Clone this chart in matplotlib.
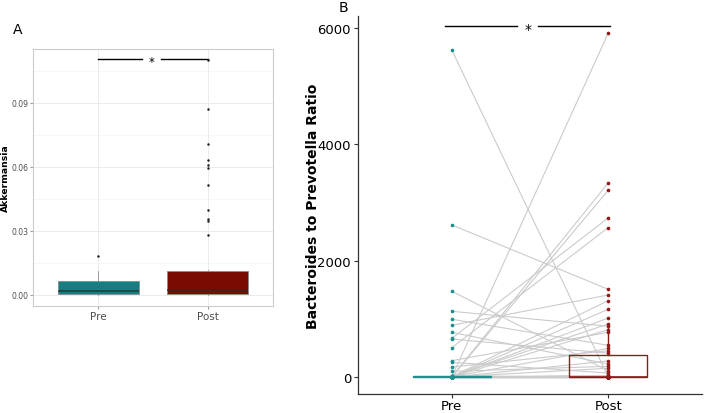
import numpy as np
import matplotlib.pyplot as plt
from matplotlib.ticker import FormatStrFormatter

groups = ['Pre', 'Post']
teal = '#127f80'
darkred = '#7b0b01'

# Panel A - Akkermansia boxplot summaries
akk_lo = [0.0, 0.0]
akk_q1 = [0.0005, 0.0005]
akk_med = [0.0016, 0.0025]
akk_q3 = [0.0064, 0.0110]
akk_hi = [0.0114, 0.0119]
akk_out_pre = [0.0183]
akk_out_post = [0.0282, 0.0346, 0.0357, 0.0399, 0.0513, 0.0595,
                0.0607, 0.0634, 0.0706, 0.0873, 0.1100]

# Panel B - paired Bacteroides / Prevotella ratio per subject
btp_pre = [5620, 2614, 1474, 1130, 992, 889, 768, 665, 653, 504, 281, 252, 172, 98,
           0, 3, 0, 8, 1, 0, 12, 0, 5, 0, 2, 0,
           0, 1, 0, 4, 0, 2, 9, 0, 0, 6, 1, 0, 3, 0, 15, 0, 2, 0, 7, 0, 1, 0,
           4, 0, 11, 0, 0, 2, 0, 5, 0, 1, 0, 3, 0, 18, 0, 2, 0, 6, 0, 1, 0, 9]
btp_post = [5, 1508, 108, 872, 545, 1410, 224, 2734, 410, 2568, 768, 69, 453, 184,
            5910, 3336, 3210, 1312, 1164, 1015, 911, 814, 493, 275, 150, 23,
            2, 0, 6, 1, 0, 12, 3, 0, 8, 0, 1, 15, 0, 4, 0, 2, 9, 0, 1, 0, 7, 3,
            0, 18, 0, 1, 5, 0, 2, 11, 0, 4, 0, 1, 6, 0, 14, 2, 0, 3, 0, 8, 1, 0]

W, H = 706, 414
fig = plt.figure(figsize=(W / 100, H / 100), dpi=100)

# ---------------- Panel A ----------------
axA = fig.add_axes([33 / W, 107 / H, 240 / W, 257 / H])
fliers = [akk_out_pre, akk_out_post]
stats = [dict(label=groups[i], whislo=akk_lo[i], q1=akk_q1[i], med=akk_med[i],
              q3=akk_q3[i], whishi=akk_hi[i], fliers=fliers[i]) for i in range(2)]
bp = axA.bxp(stats, positions=[1, 2], widths=0.75, patch_artist=True, showcaps=False,
             boxprops=dict(edgecolor='#8c8c8c', linewidth=0.6),
             medianprops=dict(color='#2a2a2a', linewidth=1.2, alpha=0.75),
             whiskerprops=dict(color='#8c8c8c', linewidth=0.6),
             flierprops=dict(marker='o', markersize=1.8, markerfacecolor='#222222',
                             markeredgecolor='none'), zorder=3)
for patch, c in zip(bp['boxes'], [teal, darkred]):
    patch.set_facecolor(c)

axA.set_xlim(0.4, 2.6)
axA.set_ylim(-0.0052, 0.1153)
axA.set_xticks([1, 2])
axA.set_xticklabels(groups)
axA.set_yticks([0, 0.03, 0.06, 0.09])
axA.set_yticks([0.015, 0.045, 0.075, 0.105], minor=True)
axA.yaxis.set_major_formatter(FormatStrFormatter('%.2f'))
axA.grid(which='major', color='#ebebeb', linewidth=0.7, zorder=0)
axA.grid(which='minor', axis='y', color='#f4f4f4', linewidth=0.5, zorder=0)
axA.set_axisbelow(True)
for sp in axA.spines.values():
    sp.set_color('#cccccc')
    sp.set_linewidth(0.8)
axA.tick_params(axis='both', which='major', length=2, color='#999999', labelcolor='#4d4d4d', pad=1.5)
axA.tick_params(axis='y', labelsize=5.5)
axA.tick_params(axis='x', labelsize=7.5)
axA.tick_params(which='minor', length=0)
axA.set_ylabel('Akkermansia', fontsize=6.7, fontweight='bold')
axA.yaxis.set_label_coords(-0.095, 0.5)

# significance bar
axA.plot([1.0, 1.4], [0.1106, 0.1106], color='black', lw=1.0)
axA.plot([1.57, 2.0], [0.1106, 0.1106], color='black', lw=1.0)
axA.text(1.485, 0.1096, '*', ha='center', va='center', fontsize=8.5)

fig.text(18 / W, 1 - 30 / H, 'A', fontsize=10, ha='center', va='center')

# ---------------- Panel B ----------------
axB = fig.add_axes([358 / W, 19 / H, 344 / W, 378 / H])
n = len(btp_pre)
for a, b in zip(btp_pre, btp_post):
    axB.plot([1, 2], [a, b], color='#cbcbcb', lw=0.8, zorder=2)

for pos, data, c in [(1, btp_pre, '#1f8f8e'), (2, btp_post, '#8e1b1b')]:
    axB.boxplot([data], positions=[pos], widths=0.5, showfliers=False, showcaps=False,
                patch_artist=True,
                boxprops=dict(facecolor='none', edgecolor=c, linewidth=1.0),
                medianprops=dict(color=c, linewidth=1.2),
                whiskerprops=dict(color=c, linewidth=1.0), zorder=3)

axB.scatter(np.ones(n), btp_pre, s=7, color='#1f8f8e', zorder=4, linewidths=0)
axB.scatter(np.full(n, 2), btp_post, s=7, color='#8e1b1b', zorder=4, linewidths=0)

axB.set_xlim(0.4, 2.6)
axB.set_ylim(-292, 6206)
axB.set_xticks([1, 2])
axB.set_xticklabels(groups)
axB.set_yticks([0, 2000, 4000, 6000])
axB.spines['top'].set_visible(False)
axB.spines['right'].set_visible(False)
for s in ['left', 'bottom']:
    axB.spines[s].set_color('#333333')
    axB.spines[s].set_linewidth(0.9)
axB.tick_params(axis='both', length=3, color='#333333', labelcolor='black', pad=2)
axB.tick_params(axis='x', pad=0.5)
axB.tick_params(axis='y', labelsize=9.5)
axB.tick_params(axis='x', labelsize=9.5)
axB.set_ylabel('Bacteroides to Prevotella Ratio', fontsize=10, fontweight='bold')
axB.yaxis.set_label_coords(-0.11, 0.5)

axB.plot([0.955, 1.42], [6036, 6036], color='black', lw=1.0)
axB.plot([1.55, 2.01], [6036, 6036], color='black', lw=1.0)
axB.text(1.485, 5985, '*', ha='center', va='center', fontsize=10)

fig.text(343 / W, 1 - 8 / H, 'B', fontsize=10, ha='center', va='center')

fig.savefig('out.png', dpi=100)
